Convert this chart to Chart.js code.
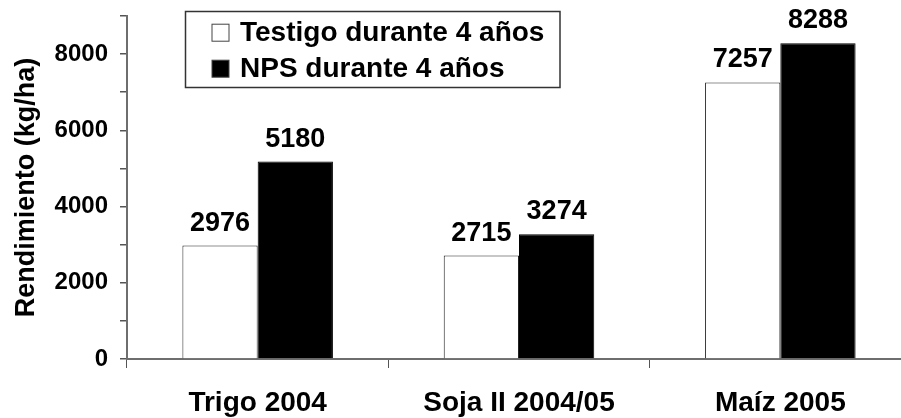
<!DOCTYPE html>
<html><head><meta charset="utf-8">
<script src="https://cdn.jsdelivr.net/npm/chart.js@4/dist/chart.umd.min.js"></script>
<style>html,body{margin:0;padding:0;overflow:hidden;background:#fff;width:901px;height:418px}
canvas{display:block}</style></head>
<body><canvas id="c" width="911" height="418"></canvas>
<script>
const categories = ['Trigo 2004', 'Soja II 2004/05', 'Maíz 2005'];
const seriesNames = ['Testigo durante 4 años', 'NPS durante 4 años'];
const testigo = [2976, 2715, 7257];
const nps = [5180, 3274, 8288];
const yTickLabels = ['0', '2000', '4000', '6000', '8000'];
const yAxisTitle = 'Rendimiento (kg/ha)';

const FONT = '"Liberation Sans", Arial, Helvetica, sans-serif';

const valueLabels = {
  id: 'valueLabels',
  afterDatasetsDraw(chart) {
    const ctx = chart.ctx;
    ctx.save();
    ctx.font = 'bold 27px ' + FONT;
    ctx.fillStyle = '#000';
    ctx.textAlign = 'center';
    ctx.textBaseline = 'alphabetic';
    chart.data.datasets.forEach((ds, i) => {
      chart.getDatasetMeta(i).data.forEach((bar, j) => {
        ctx.fillText(String(ds.data[j]), bar.x, bar.y - 15);
      });
    });
    ctx.restore();
  }
};

const boxLegend = {
  id: 'boxLegend',
  afterDraw(chart) {
    const ctx = chart.ctx;
    ctx.save();
    ctx.lineWidth = 1.5;
    ctx.strokeStyle = '#333';
    ctx.strokeRect(185.5, 11.5, 374.5, 76);
    ctx.font = 'bold 28px ' + FONT;
    ctx.textBaseline = 'middle';
    ctx.textAlign = 'left';
    chart.data.datasets.forEach((ds, i) => {
      const cy = 32.7 + i * 36;
      ctx.fillStyle = ds.backgroundColor;
      ctx.fillRect(212, cy - 8.5, 17, 17);
      ctx.lineWidth = 1;
      ctx.strokeStyle = '#444';
      ctx.strokeRect(212, cy - 8.5, 17, 17);
      ctx.fillStyle = '#000';
      ctx.fillText(ds.label, 240, cy + 1);
    });
    ctx.restore();
  }
};

new Chart(document.getElementById('c'), {
  type: 'bar',
  data: {
    labels: categories,
    datasets: [
      { label: seriesNames[0], data: testigo, backgroundColor: '#ffffff', borderColor: '#222', borderWidth: 1,
        categoryPercentage: 0.576, barPercentage: 1 },
      { label: seriesNames[1], data: nps, backgroundColor: '#000000', borderColor: '#000', borderWidth: 1,
        categoryPercentage: 0.576, barPercentage: 1 }
    ]
  },
  options: {
    responsive: false,
    animation: false,
    layout: { padding: { top: 16, left: 0, right: 0, bottom: 0 } },
    plugins: { legend: { display: false }, tooltip: { enabled: false } },
    scales: {
      x: {
        afterFit(s) { s.height = 59; s.paddingLeft = 0; s.paddingRight = 0; },
        grid: { display: true, drawOnChartArea: false, drawTicks: true, tickLength: 9, color: '#555', lineWidth: 1, offset: true },
        border: { display: true, color: '#6e6e6e', width: 2 },
        ticks: { color: '#000', font: { family: FONT, size: 28, weight: 'bold' }, padding: 18, maxRotation: 0 }
      },
      y: {
        min: 0, max: 9000,
        afterFit(s) { s.width = 127; s.paddingTop = 0; s.paddingBottom = 0; },
        grid: { display: true, drawOnChartArea: false, drawTicks: true, tickLength: 7, color: '#555', lineWidth: 1.5 },
        border: { display: true, color: '#6e6e6e', width: 2 },
        ticks: {
          stepSize: 1000, color: '#000', padding: 12,
          font: { family: FONT, size: 24, weight: 'bold' },
          callback: (v) => yTickLabels.includes(String(v)) ? String(v) : ''
        },
        title: { display: true, text: yAxisTitle, color: '#000', font: { family: FONT, size: 27, weight: 'bold', lineHeight: 1.2 }, padding: { top: 10, bottom: 0 } }
      }
    }
  },
  plugins: [valueLabels, boxLegend]
});
</script>
</body></html>
